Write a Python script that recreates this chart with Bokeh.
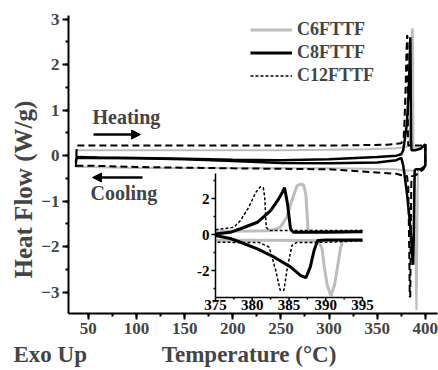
import math
from bokeh.plotting import figure
from bokeh.models import (Range1d, Legend, LegendItem, Arrow, NormalHead, Label,
                          SingleIntervalTicker, Title)
from bokeh.embed import file_html
from bokeh.resources import INLINE
from bokeh.core.properties import value

# ---------------- data ----------------
c6_heat_T = [37, 38, 60, 100, 150, 200, 250, 300, 340, 370, 375, 380, 382, 383, 383.8, 384.7,
             385.4, 386.1, 386.6, 387.0, 387.3, 387.6, 388.5, 392, 395, 400]
c6_heat_HF = [-0.25, 0.12, 0.12, 0.12, 0.12, 0.12, 0.12, 0.13, 0.14, 0.16, 0.18, 0.19, 0.21, 0.26,
              0.4, 0.96, 1.9, 2.72, 2.8, 2.75, 2.2, 0.2, 0.16, 0.16, 0.18, 0.25]
c6_cool_T = [400, 400, 398, 395, 392.3, 392.0, 391.6, 391.2, 390.7, 390.2, 389.8, 389.5, 389.0,
             388, 380, 375, 370, 300, 200, 100, 50, 37]
c6_cool_HF = [0.25, -0.22, -0.26, -0.3, -0.33, -0.8, -1.8, -2.8, -3.4, -2.8, -1.8, -0.8, -0.35,
              -0.33, -0.32, -0.32, -0.3, -0.28, -0.27, -0.27, -0.25, -0.25]

c8_heat_T = [37, 38, 60, 100, 150, 200, 250, 300, 350, 370, 375, 377, 378.4, 380.7, 382.5, 383.6,
             384.1, 384.4, 384.8, 385.2, 385.6, 390, 395, 400]
c8_heat_HF = [-0.15, -0.03, -0.04, -0.05, -0.07, -0.09, -0.1, -0.08, -0.03, 0.0, 0.03, 0.12, 0.32,
              0.68, 1.33, 1.98, 2.35, 2.6, 1.7, 0.33, 0.12, 0.12, 0.15, 0.25]
c8_cool_T = [400, 400, 398, 395, 390, 388.9, 388.4, 387.9, 387.3, 386.6, 385.2, 383, 380.7, 378.4,
             377, 375, 370, 350, 300, 250, 200, 150, 100, 50, 37]
c8_cool_HF = [0.25, -0.22, -0.26, -0.3, -0.3, -0.33, -0.9, -1.8, -2.4, -2.28, -1.8, -1.26, -0.8,
              -0.43, -0.22, -0.05, -0.1, -0.15, -0.17, -0.16, -0.12, -0.08, -0.06, -0.05, -0.05]

c12_heat_T = [37, 38, 100, 200, 300, 360, 370, 375, 377.5, 378.4, 379.5, 380.5, 381.1, 381.5,
              381.7, 381.9, 382.3, 385, 390, 395, 400]
c12_heat_HF = [-0.25, 0.22, 0.22, 0.22, 0.22, 0.24, 0.26, 0.27, 0.4, 0.78, 1.5, 2.35, 2.65, 2.6,
               2.07, 0.4, 0.22, 0.22, 0.22, 0.22, 0.25]
c12_cool_T = [400, 400, 398, 395, 390, 386, 385.4, 384.8, 384.3, 383.8, 383.2, 382.3, 381, 375,
              370, 300, 200, 100, 50, 37]
c12_cool_HF = [0.25, -0.22, -0.3, -0.35, -0.43, -0.45, -0.6, -1.8, -3.1, -3.1, -2.0, -0.7, -0.45,
               -0.43, -0.4, -0.3, -0.28, -0.25, -0.22, -0.22]

series_names = ["C6FTTF", "C8FTTF", "C12FTTF"]

x_ticks_main = 50
y_ticks_main = 1
inset_x_ticks = [375, 380, 385, 390, 395]
inset_x_minor = [377.5, 382.5, 387.5, 392.5]
inset_y_ticks = [-2, 0, 2]
inset_y_minor = [-3, -1, 1, 3]
inset_x_range = (375, 395)
inset_y_range = (-3.5, 3.39)

# ---------------- layout ----------------
W, H = 438, 370
FL, FR, FT, FB = 68, 437, 15, 313   # frame edges in pixels
XR = (29.4, 412.6)
YR = (-3.47, 3.08)
FONT = "Liberation Serif"
NBSP = "\u00a0"


def sx(px):
    return XR[0] + (px - FL) / (FR - FL) * (XR[1] - XR[0])


def sy(py):
    return YR[0] + (FB - py) / (FB - FT) * (YR[1] - YR[0])


p = figure(width=W, height=H, x_range=Range1d(*XR), y_range=Range1d(*YR),
           output_backend="svg", toolbar_location=None,
           min_border_left=FL, min_border_right=W - FR, min_border_top=FT,
           min_border_bottom=H - FB)
p.grid.visible = False
p.outline_line_color = None
p.background_fill_color = "white"
p.border_fill_color = "white"

p.xaxis.ticker = SingleIntervalTicker(interval=x_ticks_main, num_minor_ticks=2)
p.yaxis.ticker = SingleIntervalTicker(interval=y_ticks_main, num_minor_ticks=2)
for ax in (p.xaxis[0], p.yaxis[0]):
    ax.axis_line_width = 2
    ax.major_tick_line_width = 2
    ax.minor_tick_line_width = 2
    ax.major_tick_out = 6
    ax.major_tick_in = 0
    ax.minor_tick_out = 3
    ax.minor_tick_in = 0
    ax.major_label_text_font = FONT
    ax.major_label_text_font_style = "bold"
    ax.major_label_text_font_size = "17px"
    ax.major_label_standoff = 3

ytitle = Title(text="Heat Flow (W/g)", align="left", offset=35, standoff=4,
               text_font=FONT, text_font_style="bold", text_font_size="25px")
p.add_layout(ytitle, "left")

xtitle = Title(text="Exo Up" + NBSP * 13 + "Temperature (°C)", align="left", offset=-55,
               standoff=6, text_font=FONT, text_font_style="bold", text_font_size="23px")
p.add_layout(xtitle, "below")

GRAY = "#bdbdbd"
# main curves
for T_, HF_ in ((c6_heat_T, c6_heat_HF), (c6_cool_T, c6_cool_HF)):
    p.line(T_, HF_, line_color=GRAY, line_width=2)
for T_, HF_ in ((c12_heat_T, c12_heat_HF), (c12_cool_T, c12_cool_HF)):
    p.line(T_, HF_, line_color="black", line_width=2, line_dash="7 4")
for T_, HF_ in ((c8_heat_T, c8_heat_HF), (c8_cool_T, c8_cool_HF)):
    p.line(T_, HF_, line_color="black", line_width=2.5)

# ---------------- inset ----------------
ins = p.subplot(x_source=Range1d(*inset_x_range), y_source=Range1d(*inset_y_range),
                x_target=Range1d(sx(215), sx(362)), y_target=Range1d(sy(297), sy(173)))


def window(T_, HF_):
    pts = [(t, h) for t, h in zip(T_, HF_) if inset_x_range[0] <= t <= inset_x_range[1]]
    return [a for a, _ in pts], [b for _, b in pts]


r6 = []
for T_, HF_ in ((c6_heat_T, c6_heat_HF), (c6_cool_T, c6_cool_HF)):
    xs, ys = window(T_, HF_)
    r6.append(ins.line(xs, ys, line_color=GRAY, line_width=3))
r12 = []
for T_, HF_ in ((c12_heat_T, c12_heat_HF), (c12_cool_T, c12_cool_HF)):
    xs, ys = window(T_, HF_)
    r12.append(ins.line(xs, ys, line_color="black", line_width=1.5, line_dash="3 2"))
r8 = []
for T_, HF_ in ((c8_heat_T, c8_heat_HF), (c8_cool_T, c8_cool_HF)):
    xs, ys = window(T_, HF_)
    r8.append(ins.line(xs, ys, line_color="black", line_width=3))

x0, x1 = inset_x_range
y0, y1 = inset_y_range
ins.segment(x0=[x0, x0], y0=[y0, y0], x1=[x0, x1], y1=[y1, y0], line_color="black", line_width=1.5)
ins.ray(x=inset_x_ticks, y=[y0] * len(inset_x_ticks), length=4, length_units="screen",
        angle=-math.pi / 2, line_color="black", line_width=1.5)
ins.ray(x=inset_x_minor, y=[y0] * len(inset_x_minor), length=2, length_units="screen",
        angle=-math.pi / 2, line_color="black", line_width=1.5)
ins.ray(x=[x0] * len(inset_y_ticks), y=inset_y_ticks, length=4, length_units="screen",
        angle=math.pi, line_color="black", line_width=1.5)
ins.ray(x=[x0] * len(inset_y_minor), y=inset_y_minor, length=2, length_units="screen",
        angle=math.pi, line_color="black", line_width=1.5)
ins.text(x=inset_x_ticks, y=[y0] * len(inset_x_ticks), text=[str(v) for v in inset_x_ticks],
         text_align="center", text_baseline="top", y_offset=2,
         text_font=value(FONT), text_font_style="bold", text_font_size="15px")
ins.text(x=[x0] * len(inset_y_ticks), y=inset_y_ticks, text=[str(v) for v in inset_y_ticks],
         text_align="right", text_baseline="middle", x_offset=-6,
         text_font=value(FONT), text_font_style="bold", text_font_size="15px")

# ---------------- legend ----------------
legend = Legend(items=[LegendItem(label=series_names[0], renderers=[r6[0]]),
                       LegendItem(label=series_names[1], renderers=[r8[0]]),
                       LegendItem(label=series_names[2], renderers=[r12[0]])],
                location=(182, 226), orientation="vertical",
                padding=0, spacing=0, margin=0, glyph_width=42, glyph_height=23,
                label_height=23, label_standoff=5,
                label_text_font=FONT, label_text_font_style="bold",
                label_text_font_size="18px", border_line_color=None,
                background_fill_alpha=0)
p.add_layout(legend)

# ---------------- annotations ----------------
head = dict(size=9, fill_color="black", line_color="black")
p.add_layout(Arrow(end=NormalHead(**head), x_start=sx(93), y_start=sy(134),
                   x_end=sx(140), y_end=sy(134), line_width=2.5))
p.add_layout(Arrow(end=NormalHead(**head), x_start=sx(142), y_start=sy(177),
                   x_end=sx(92), y_end=sy(177), line_width=2.5))
lab = dict(text_font=FONT, text_font_style="bold", text_baseline="top")
p.add_layout(Label(x=sx(92), y=sy(105), text="Heating", text_font_size="20px", **lab))
p.add_layout(Label(x=sx(90), y=sy(181), text="Cooling", text_font_size="20px", **lab))

open("out.html", "w").write(file_html(p, INLINE))
